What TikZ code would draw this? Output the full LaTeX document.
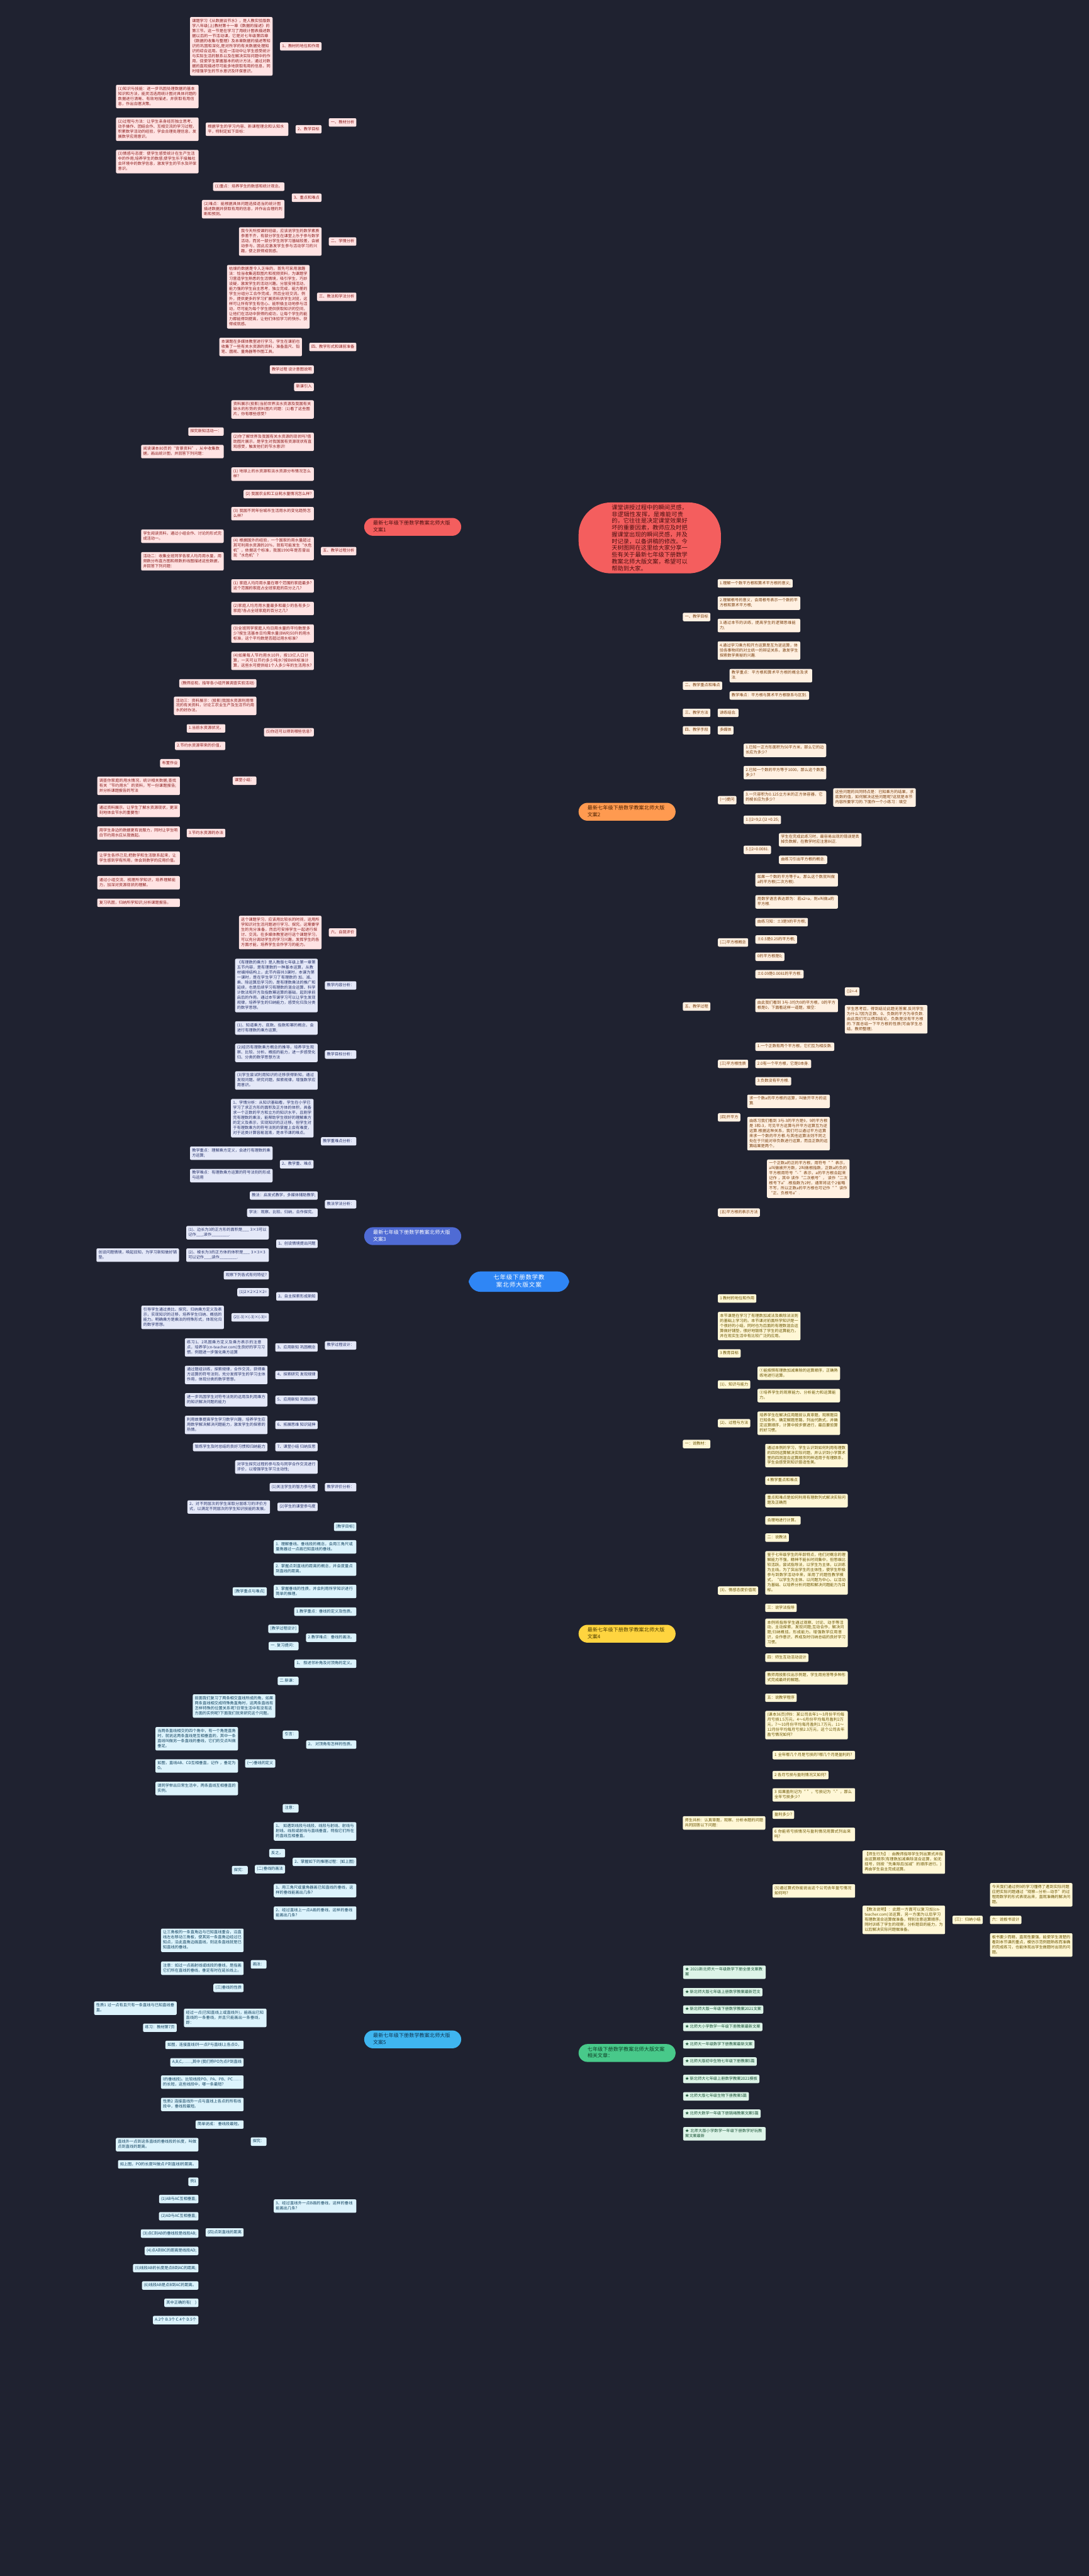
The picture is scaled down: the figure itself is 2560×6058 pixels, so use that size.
\documentclass[tikz,border=0pt]{standalone}
\usepackage{fontspec}
\setmainfont{Noto Sans CJK SC}
\XeTeXlinebreaklocale "zh"
\XeTeXlinebreakskip=0pt plus 1pt
\pgfdeclarelayer{bg}
\pgfsetlayers{bg,main}
\definecolor{bgc}{HTML}{1F2230}
\definecolor{rF}{HTML}{FFE3E3}\definecolor{rT}{HTML}{8C1C1C}\definecolor{rL}{HTML}{E8605E}\definecolor{rP}{HTML}{F45E5E}\definecolor{rPT}{HTML}{4A1010}
\definecolor{oF}{HTML}{FFF0E1}\definecolor{oT}{HTML}{7A3E0C}\definecolor{oL}{HTML}{F2A262}\definecolor{oP}{HTML}{FF9A50}\definecolor{oPT}{HTML}{4A2000}
\definecolor{bF}{HTML}{E4E8F8}\definecolor{bT}{HTML}{26326B}\definecolor{bL}{HTML}{4A6AD0}\definecolor{bP}{HTML}{4F6BD4}\definecolor{bPT}{HTML}{FFFFFF}
\definecolor{yF}{HTML}{FFF7D6}\definecolor{yT}{HTML}{6A5500}\definecolor{yL}{HTML}{F3D46A}\definecolor{yP}{HTML}{FFD43F}\definecolor{yPT}{HTML}{4A3B00}
\definecolor{gF}{HTML}{DDF4E8}\definecolor{gT}{HTML}{1A5436}\definecolor{gL}{HTML}{4DC48B}\definecolor{gP}{HTML}{48C98A}\definecolor{gPT}{HTML}{0F3E26}
\definecolor{cF}{HTML}{DCF3FC}\definecolor{cT}{HTML}{11425F}\definecolor{cL}{HTML}{3BB0E8}\definecolor{cP}{HTML}{3FB5EF}\definecolor{cPT}{HTML}{0D3350}
\definecolor{ctrF}{HTML}{2F86F5}
\newcommand\lfont{\fontsize{9.2}{11.8}\selectfont}
\newcommand\pfont{\fontsize{11.9}{16}\selectfont}
\tikzset{
 lf/.style={fill=F,text=T,rounded corners=3pt,inner xsep=4.8pt,inner ysep=4pt,font=\lfont,align=left,execute at begin node=\strut,execute at end node=\strut},
 w/.style={text width=184.5pt},
 conn/.style={draw=Ln,line width=1.4pt,rounded corners=5pt},
 pill/.style={fill=PF,text=PT,rounded corners=21pt,inner xsep=21pt,inner ysep=5pt,font=\pfont,text width=186pt,align=left,execute at begin node=\strut,execute at end node=\strut},
 mline/.style={line width=2.4pt},
}
\newcommand\mkL[5]{\node[lf,anchor=east,#2] (#1) at (#3,-#4) {#5};}
\newcommand\mkR[5]{\node[lf,anchor=west,#2] (#1) at (#3,-#4) {#5};}
\newcommand\joinL[2]{\foreach \cc in {#2}{\draw[conn] (#1.west) -- ++(-9,0) |- (\cc.east);}}
\newcommand\joinR[2]{\foreach \cc in {#2}{\draw[conn] (#1.east) -- ++(9,0) |- (\cc.west);}}
\begin{document}
\begin{tikzpicture}[x=1pt,y=1pt]
\fill[bgc] (0,0) rectangle (2560,-6058);
\useasboundingbox (0,0) rectangle (2560,-6058);

% centre
\node[fill=ctrF,text=white,rounded corners=28pt,inner xsep=26pt,inner ysep=6pt,font=\fontsize{14}{18}\selectfont,text width=184pt,align=center,execute at begin node=\strut,execute at end node=\strut] (ctr) at (1220,-3014) {七年级下册数学教案北师大版文案};

% bubble
\node[fill=rP,text=rPT,rounded corners=76pt,inner xsep=78pt,inner ysep=5.5pt,font=\fontsize{13.7}{15.9}\selectfont,text width=178.6pt,align=left,anchor=west] (bub) at (1360,-1265) {课堂讲授过程中的瞬间灵感，非逻辑性发挥，是难能可贵的，它往往是决定课堂效果好坏的重要因素，教师应及时把握课堂出现的瞬间灵感，并及时记录，以备讲稿的修改。今天树图网在这里给大家分享一些有关于最新七年级下册数学教案北师大版文案，希望可以帮助到大家。};

%================ RED
\begin{scope}
\colorlet{F}{rF}\colorlet{T}{rT}\colorlet{Ln}{rL}\colorlet{PF}{rP}\colorlet{PT}{rPT}
\node[pill,anchor=west] (r) at (856,-1239) {最新七年级下册数学教案北师大版文案1};
\mkL{r1}{}{838}{288}{一、教材分析}
\mkL{r2}{}{838}{568}{二、学情分析}
\mkL{r3}{}{838}{698}{三、教法和学法分析}
\mkL{r4}{}{838}{816}{四、教学形式和课前准备}
\mkL{r5}{}{838}{1296}{五、教学过程分析}
\mkL{r6}{}{838}{2193}{六、自我评价}
\mkL{r11}{}{756}{109}{1、教材的地位和作用}
\mkL{r12}{}{756}{304}{2、教学目标}
\mkL{r13}{}{756}{465}{3、重点和难点}
\mkL{r11a}{w}{641}{109}{课题学习《从数据谈节水》，是人教实验版数学八年级(上)教材第十一章《数据的描述》的第三节。这一节是在学习了用统计图表描述数据以后的一节活动课，它是对七年级第四章《数据的收集与整理》及本章数据的描述等知识的巩固和深化,是对所学的有关数据处理知识的综合运用。在这一活动中让学生感受统计与实际生活的联系以及在解决实际问题中的作用，促使学生掌握基本的统计方法，通过对数据的直观描述尽可能多地获取有用的信息，同时增强学生的节水意识及环保意识。}
\mkL{r12a}{w}{678}{304}{根据学生的学习内容、新课程理念和认知水平，特制定如下目标：}
\mkL{r12b}{w}{467}{227}{(1)知识与技能：进一步巩固处理数据的基本知识和方法，能灵活选用统计图对具体问题的数据进行清晰、有效地描述，并获取有用信息，作出合理决策。}
\mkL{r12c}{w}{467}{304}{(2)过程与方法：让学生亲身经历独立思考、动手操作、团结合作、互相交流的学习过程，积累数学活动的经验，学会合理处理信息，发展数学应用意识。}
\mkL{r12d}{w}{467}{380}{(3)情感与态度：使学生感受统计在生产生活中的作用;培养学生的数感;使学生乐于接触社会环境中的数学信息，激发学生的节水及环保意识。}
\mkL{r13a}{}{669}{439}{(1)重点：培养学生的数感和统计观念。}
\mkL{r13b}{w}{669}{492}{(2)难点：能根据具体问题选择适当的统计图描述数据并获取有用的信息，并作出合理的判断和预测。}
\mkL{r2a}{w}{756}{568}{我今天所授课的班级，应该说学生的数学素质参差不齐，有部分学生在课堂上乐于参与数学活动，而另一部分学生则学习基础较差，会被动参与，因此应激发学生参与活动学习的兴趣，使之获得成就感。}
\mkL{r3a}{w}{728}{698}{枯燥的数据是令人乏味的，首先可采用激趣法：恰当收集选取图片和视频资料，为课题学习营造学生熟悉的生活情境，吸引学生，巧妙设疑，激发学生的活动兴趣。分层安排活动，能力强的学生自主思考，独立完成，能力差的学生分组分工合作完成，然后全班交流。例外，提供更多的学习扩展资料供学生浏览，这样可让所有学生有信心、能积极主动地参与活动，尽可能为每个学生提供获取知识的空间，让他们在活动中获得的成功，让每个学生的能力都能得到提高，让他们体验学习的快乐、获得成就感。}
\mkL{r4a}{w}{710}{816}{本课题在多媒体教室进行学习。学生在课前也收集了一些有关水资源的资料，准备直尺、铅笔、圆规、量角器等作图工具。}
\mkL{r51}{}{738}{869}{教学过程 设计意图说明}
\mkL{r52}{}{738}{910}{新课引入}
\mkL{r53}{w}{738}{963}{资料展示(投影)当前世界淡水资源及我国有关缺水的形势的资料图片问题：(1)看了这些图片，你有哪些感受?}
\mkL{r54}{w}{738}{1039}{(2)你了解世界及我国有关水资源的现状吗?借助图片展示，是学生对我国国有资源现状有直观感受，触发他们的节水意识!}
\mkL{r54a}{}{526}{1015}{探究新知活动一：}
\mkL{r54b}{w}{526}{1062}{阅读课本80页的“背景资料”，从中收集数据，画出统计图，并回答下列问题：}
\mkL{r55}{w}{738}{1115}{(1) 地球上的水资源和淡水资源分布情况怎么样?}
\mkL{r56}{}{738}{1162}{(2) 我国农业和工业耗水量情况怎么样?}
\mkL{r57}{w}{738}{1208}{(3) 我国不同年份城市生活用水的变化趋势怎么样?}
\mkL{r58}{w}{738}{1290}{(4) 根据国外的经验，一个国家的用水量超过其可利用水资源的20\%，就有可能发生“水危机”，依据这个标准，我国1990年是否曾出现“水危机”?}
\mkL{r58a}{w}{526}{1261}{学生阅读资料，通过小组合作、讨论的形式完成活动一。}
\mkL{r58b}{w}{526}{1320}{活动二：收集全班同学各家人均月用水量，用频数分布直方图和频数折线图描述这些数据，并回答下列问题：}
\mkL{r59}{w}{738}{1378}{(1) 家庭人均月用水量在哪个范围的家庭最多?这个范围的家庭占全班家庭的百分之几?}
\mkL{r5a}{w}{738}{1431}{(2)家庭人均月用水量最多和最少的各有多少家庭?各占全班家庭的百分之几?}
\mkL{r5b}{w}{738}{1490}{(3)全班同学家庭人均日用水量的平均数是多少?按生活基本日均需水量(BWR)50升的用水标准，这个平均数是否超过用水标准?}
\mkL{r5c}{w}{738}{1554}{(4)如果每人节约用水10升，按13亿人口计算，一天可以节约多少吨水?按BWR标准计算，这些水可提供给1个人多少年的生活用水?}
\mkL{r5d}{}{738}{1722}{(5)你还可以得到哪些信息?}
\mkL{r5d1}{}{603}{1607}{(教师巡视，指导各小组开展调查实验活动)}
\mkL{r5d2}{w}{603}{1660}{活动三：资料展示：(投影)我国水资源利用情况的有关资料，讨论工农业生产及生活节约用水的好办法。}
\mkL{r5d3}{}{603}{1836}{课堂小结：}
\mkL{s1}{}{530}{1713}{1.当前水资源状况，}
\mkL{s2}{}{530}{1754}{2.节约水资源带来的价值，}
\mkL{s3}{}{530}{1959}{3.节约水资源的办法}
\mkL{t1}{}{423}{1795}{布置作业}
\mkL{t2}{w}{423}{1848}{调查你家庭的用水情况，统计相关数据;查找有关“节约用水”的资料，写一份课题报告;并分析课题报告的写法}
\mkL{t3}{w}{423}{1906}{通过资料展示，让学生了解水资源现状，更深刻地体会节水的重要性!}
\mkL{t4}{w}{423}{1959}{用学生身边的数据更有说服力，同时让学生明白节约用水应从我做起。}
\mkL{t5}{w}{423}{2018}{让学生各抒己见;把数学和生活联系起来，让学生感到学有所用，体会到数学的应用价值。}
\mkL{t6}{w}{423}{2076}{通过小组交流、梳理所学知识，培养理解能力，加深对资源现状的理解。}
\mkL{t7}{w}{423}{2123}{复习巩固，归纳所学知识;分析课题报告。}
\mkL{r6a}{w}{756}{2193}{这个课题学习，应该用比较长的时间，运用所学知识对生活问题进行学习、探究。这需要学生的充分准备，然后可安排学生一起进行探讨、交流。在多媒体教室进行这个课题学习，可以充分调动学生的学习兴趣，发挥学生的各方面才能，培养学生合作学习的能力。}
\begin{pgfonlayer}{bg}
\draw[mline,draw=rL] (1160,-3014) .. controls (1160,-1239) and (1160,-1239) .. (r.east);
\joinL{r}{r1,r2,r3,r4,r5,r6}
\joinL{r1}{r11,r12,r13}
\joinL{r11}{r11a}
\joinL{r12}{r12a}
\joinL{r12a}{r12b,r12c,r12d}
\joinL{r13}{r13a,r13b}
\joinL{r2}{r2a}\joinL{r3}{r3a}\joinL{r4}{r4a}\joinL{r6}{r6a}
\joinL{r5}{r51,r52,r53,r54,r55,r56,r57,r58,r59,r5a,r5b,r5c,r5d}
\joinL{r54}{r54a,r54b}
\joinL{r58}{r58a,r58b}
\joinL{r5d}{r5d1,r5d2,r5d3}
\joinL{r5d3}{s1,s2,s3}
\joinL{s3}{t1,t2,t3,t4,t5,t6,t7}
\end{pgfonlayer}
\end{scope}

%================ BLUE
\begin{scope}
\colorlet{F}{bF}\colorlet{T}{bT}\colorlet{Ln}{bL}\colorlet{PF}{bP}\colorlet{PT}{bPT}
\node[pill,anchor=west] (b) at (856,-2907) {最新七年级下册数学教案北师大版文案3};
\mkL{b1}{}{838}{2317.5}{教学内容分析：}
\mkL{b2}{}{838}{2480}{教学目标分析：}
\mkL{b3}{}{838}{2684}{教学重难点分析：}
\mkL{b4}{}{838}{2832}{教法学法分析：}
\mkL{b5}{}{838}{3164}{教学过程设计：}
\mkL{b6}{}{838}{3497.5}{教学评价分析：}
\mkL{b1a}{w}{747}{2317.6}{《有理数的乘方》是人教版七年级上第一章第五节内容，是有理数的一种基本运算，从教材编排结构上，此节内容共3课时，本课为第一课时，是在学生学习了有理数的 加、减、乘、除运算后学习的，是有理数乘法的推广和延续，也是后续学习有理数的混合运算、科学计数法和开方及指数幂运算的基础，起到承前启后的作用。通过本节课学习可以让学生发现规律，培养学生的归纳能力，感受化归及分类的数学思想。}
\mkL{b2a}{w}{747}{2417.5}{(1)、知道乘方、底数、指数和幂的概念，会进行有理数的乘方运算;}
\mkL{b2b}{w}{747}{2476}{(2)经历有理数乘方概念的推导，培养学生观察、比较、分析、概括的能力，进一步感受化归、分类的数学思想方法}
\mkL{b2c}{w}{747}{2541}{(3)学生尝试利用知识的迁移获得新知，通过发现问题、研究问题，探索规律，增强数学应用意识。}
\mkL{b3a}{w}{737.4}{2629.7}{1、学情分析：从知识基础看，学生在小学已学习了求正方形的面积及正方体的体积，具备求一个正数的平方和立方的知识水平，且刚学完有理数的乘法，能帮助学生很好的理解乘方的定义及表示，实现知识的正迁移。但学生对于有理数乘方的符号法则的掌握上会有难度，对于这类计算容易混淆，是本节课的难点。}
\mkL{b3b}{}{737.4}{2738}{2、教学重、难点}
\mkL{b3b1}{w}{641}{2712}{教学重点：理解乘方定义，会进行有理数的乘方运算;}
\mkL{b3b2}{w}{641}{2764.7}{教学难点：有理数乘方运算的符号法则的形成与运用}
\mkL{b4a}{}{747}{2811.5}{教法：启发式教学，多媒体辅助教学;}
\mkL{b4b}{}{747}{2852}{学法：观察、比较、归纳，合作探究。}
\mkL{b51}{}{747}{2925}{1、创设情境提出问题}
\mkL{b51a}{w}{632.2}{2899}{(1)、边长为3的正方形的面积是\_\_\_ 3×3可以记作\_\_\_,读作\_\_\_\_\_\_\_\_.}
\mkL{b51b}{w}{632.2}{2951.7}{(2)、棱长为3的正方体的体积是\_\_\_ 3×3×3可以记作\_\_\_,读作\_\_\_\_\_\_\_\_.}
\mkL{b51c}{w}{421}{2951.7}{创设问题情境，唤起旧知，为学习新知做好铺垫。}
\mkL{b52}{}{747}{3048.8}{2、自主探索形成新知}
\mkL{b52a}{}{632.2}{2999}{观察下列各式有何特征?}
\mkL{b52b}{}{632.2}{3039}{(1)2×2×2×2=}
\mkL{b52c}{}{632.2}{3098}{(2)(-3)×(-3)×(-3)=}
\mkL{b52d}{w}{526.6}{3098}{引导学生通过类比、探究、归纳乘方定义及表示，实现知识的迁移，培养学生归纳、概括的能力。明确乘方是乘法的特殊形式，体现化归的数学思想。}
\mkL{b53}{}{747}{3168.8}{3、应用新知 巩固概念}
\mkL{b53a}{w}{629}{3168.8}{练习1、2巩固乘方定义及乘方表示的注意点，培养学(cn-teacher.com)生良好的学习习惯。例题进一步强化乘方运算}
\mkL{b54}{}{747}{3233.5}{4、探索研究 发现规律}
\mkL{b54a}{w}{629}{3233.5}{通过题组训练，探索规律，合作交流，获得乘方运算的符号法则，充分发挥学生的学习主体作用，体现分类的数学思想。}
\mkL{b55}{}{747}{3292}{5、应用新知 巩固训练}
\mkL{b55a}{w}{629}{3292}{进一步巩固学生对符号法则的运用及利用乘方的知识解决问题的能力}
\mkL{b56}{}{747}{3351}{6、拓展思维 知识延伸}
\mkL{b56a}{w}{629}{3351}{利用故事提高学生学习数学兴趣，培养学生应用数学解决解决问题能力，激发学生的探索的热情。}
\mkL{b57}{}{747}{3403}{7、课堂小结 归纳反思}
\mkL{b57a}{}{629}{3403}{锻炼学生及时总结的良好习惯和归纳能力}
\mkL{b6a}{w}{747}{3450}{对学生探究过程的参与及与同学合作交流进行评价，以增强学生学习主动性;}
\mkL{b6b}{}{747}{3497.5}{(1)关注学生的智力参与度}
\mkL{b6c}{}{747}{3543.7}{(2)学生的课堂参与度}
\mkL{b6d}{w}{635}{3544}{2、对不同层次的学生采取分层练习的评价方式，以满足不同层次的学生知识技能的发展。}
\begin{pgfonlayer}{bg}
\draw[mline,draw=bL] (1160,-3014) .. controls (1160,-2907) and (1160,-2907) .. (b.east);
\joinL{b}{b1,b2,b3,b4,b5,b6}
\joinL{b1}{b1a}
\joinL{b2}{b2a,b2b,b2c}
\joinL{b3}{b3a,b3b}
\joinL{b3b}{b3b1,b3b2}
\joinL{b4}{b4a,b4b}
\joinL{b5}{b51,b52,b53,b54,b55,b56,b57}
\joinL{b51}{b51a,b51b}
\joinL{b51b}{b51c}
\joinL{b52}{b52a,b52b,b52c}
\joinL{b52c}{b52d}
\joinL{b53}{b53a}\joinL{b54}{b54a}\joinL{b55}{b55a}\joinL{b56}{b56a}\joinL{b57}{b57a}
\joinL{b6}{b6a,b6b,b6c}
\joinL{b6c}{b6d}
\end{pgfonlayer}
\end{scope}

%================ CYAN
\begin{scope}
\colorlet{F}{cF}\colorlet{T}{cT}\colorlet{Ln}{cL}\colorlet{PF}{cP}\colorlet{PT}{cPT}
\node[pill,anchor=west] (c) at (856,-4796) {最新七年级下册数学教案北师大版文案5};
\mkL{c01}{}{838}{3590.5}{[教学目标]}
\mkL{c02}{w}{838}{3637.7}{1. 理解垂线、垂线段的概念，会用三角尺或量角器过一点画已知直线的垂线。}
\mkL{c03}{w}{838}{3690}{2. 掌握点到直线的距离的概念，并会度量点到直线的距离。}
\mkL{c04}{w}{838}{3742.6}{3. 掌握垂线的性质，并会利用所学知识进行简单的推理。}
\mkL{c04a}{}{627.4}{3742.7}{[教学重点与难点]}
\mkL{c05}{}{838}{3790}{1.教学重点：垂线的定义及性质。}
\mkL{c06}{}{838}{3851.4}{2.教学难点：垂线的画法。}
\mkL{c06a}{}{702}{3830.5}{[教学过程设计]}
\mkL{c06b}{}{702}{3871}{一. 复习提问：}
\mkL{c07}{}{838}{3912.5}{1、 叙述邻补角及对顶角的定义。}
\mkL{c08}{}{838}{4102.7}{2、 对顶角有怎样的性质。}
\mkL{c08a}{}{702}{3953}{二.新课：}
\mkL{c08b}{}{702}{4079.6}{引言：}
\mkL{c08c}{}{702}{4252.6}{注意：}
\mkL{c08b1}{w}{647.5}{4012}{前面我们复习了两条相交直线所成的角，如果两条直线相交成特殊角直角时，这两条直线有怎样特殊的位置关系呢?日常生活中有没有这方面的实例呢?下面我们就来研究这个问题。}
\mkL{c08b2}{}{647.5}{4147}{(一)垂线的定义}
\mkL{c08d1}{w}{559.7}{4089}{当两条直线相交的四个角中，有一个角是直角时，就说这两条直线是互相垂直的，其中一条直线叫做另一条直线的垂线，它们的交点叫做垂足。}
\mkL{c08d2}{w}{559.7}{4153}{如图，直线AB、CD互相垂直，记作 ，垂足为O。}
\mkL{c08d3}{w}{559.7}{4206}{请同学举出日常生活中，两条直线互相垂直的实例。}
\mkL{c09}{w}{838}{4307}{1、 如遇到线段与线段、线段与射线、射线与射线、线段或射线与直线垂直，特指它们所在的直线互相垂直。}
\mkL{c10}{}{838}{4378.6}{2、掌握如下的推理过程：(如上图)}
\mkL{c10a}{}{670.4}{4358}{反之，}
\mkL{c10b}{}{670.4}{4395.7}{(二)垂线的画法}
\mkL{c10c}{}{582.6}{4398}{探究：}
\mkL{c11}{w}{838}{4446}{1、用三角尺或量角器画已知直线的垂线，这样的垂线能画出几条?}
\mkL{c12}{w}{838}{4499}{2、经过直线上一点A画的垂线，这样的垂线能画出几条?}
\mkL{c13}{w}{838}{5188}{3、经过直线外一点B画的垂线，这样的垂线能画出几条?}
\mkL{c13a}{}{626.8}{4619.5}{画法：}
\mkL{c13a1}{w}{572.9}{4563}{让三角板的一条直角边与已知直线重合，沿直线左右移动三角板，使其另一条直角边经过已知点，沿此直角边画直线，则这条直线就是已知直线的垂线。}
\mkL{c13a2}{w}{572.9}{4628.6}{注意：如过一点画射线或线段的垂线，是指画它们所在直线的垂线，垂足有时在延长线上。}
\mkL{c13a3}{}{572.9}{4674.8}{(三)垂线的性质}
\mkL{c13b}{w}{626.8}{4745.5}{经过一点(已知直线上或直线外)，能画出已知直线的一条垂线，并且只能画出一条垂线，即：}
\mkL{c13b1}{w}{415.6}{4722.6}{性质1 过一点有且只有一条直线与已知直线垂直。}
\mkL{c13b2}{}{415.6}{4768.6}{练习：教材第7页}
\mkL{c13c}{}{626.8}{5036.4}{探究：}
\mkL{c13c1}{}{572.9}{4809}{如图，连接直线l外一点P与直线l上各点O，}
\mkL{c13c2}{}{572.9}{4850}{A,B,C,……,其中 (我们称PO为点P到直线}
\mkL{c13c3}{w}{572.9}{4896.5}{l的垂线段)。比较线段PO、PA、PB、PC……的长短，这些线段中，哪一条最短?}
\mkL{c13c4}{w}{572.9}{4949}{性质2 连接直线外一点与直线上各点的所有线段中，垂线段最短。}
\mkL{c13c5}{}{572.9}{4996.3}{简单说成： 垂线段最短。}
\mkL{c13x}{}{572.9}{5250}{(四)点到直线的距离}
\mkL{c13x1}{w}{466.7}{5043.6}{直线外一点到这条直线的垂线段的长度，叫做点到直线的距离。}
\mkL{c13x2}{}{466.7}{5090}{如上图，PO的长度叫做点 P到直线l的距离。}
\mkL{c13x3}{}{466.7}{5130.7}{例1}
\mkL{c13x4}{}{466.7}{5171.4}{(1)AB与AC互相垂直;}
\mkL{c13x5}{}{466.7}{5212}{(2)AD与AC互相垂直;}
\mkL{c13x6}{}{466.7}{5252.7}{(3)点C到AB的垂线段是线段AB;}
\mkL{c13x7}{}{466.7}{5293.4}{(4)点A到BC的距离是线段AD;}
\mkL{c13x8}{}{466.7}{5334}{(5)线段AB的长度是点B到AC的距离;}
\mkL{c13x9}{}{466.7}{5374.8}{(6)线段AB是点B到AC的距离。}
\mkL{c13x10}{}{466.7}{5415.5}{其中正确的有(\quad)}
\mkL{c13x11}{}{466.7}{5456.2}{A.2个 B.3个 C.4个 D.5个}
\begin{pgfonlayer}{bg}
\draw[mline,draw=cL] (1160,-3014) .. controls (1160,-4796) and (1160,-4796) .. (c.east);
\joinL{c}{c01,c02,c03,c04,c05,c06,c07,c08,c09,c10,c11,c12,c13}
\joinL{c04}{c04a}
\joinL{c06}{c06a,c06b}
\joinL{c08}{c08a,c08b,c08c}
\joinL{c08b}{c08b1,c08b2}
\joinL{c08b2}{c08d1,c08d2,c08d3}
\joinL{c10}{c10a,c10b}
\joinL{c10b}{c10c}
\joinL{c13}{c13a,c13b,c13c}
\joinL{c13a}{c13a1,c13a2,c13a3}
\joinL{c13b}{c13b1,c13b2}
\joinL{c13c}{c13c1,c13c2,c13c3,c13c4,c13c5,c13x}
\joinL{c13x}{c13x1,c13x2,c13x3,c13x4,c13x5,c13x6,c13x7,c13x8,c13x9,c13x10,c13x11}
\end{pgfonlayer}
\end{scope}

%================ ORANGE
\begin{scope}
\colorlet{F}{oF}\colorlet{T}{oT}\colorlet{Ln}{oL}\colorlet{PF}{oP}\colorlet{PT}{oPT}
\node[pill,anchor=west] (o) at (1360,-1909) {最新七年级下册数学教案北师大版文案2};
\mkR{o1}{}{1605}{1451}{一、教学目标}
\mkR{o2}{}{1605}{1612.5}{二、教学重点和难点}
\mkR{o3}{}{1605}{1676.5}{三、教学方法}
\mkR{o4}{}{1605}{1717.4}{四、教学手段}
\mkR{o5}{}{1605}{2367}{五、教学过程}
\mkR{o1a}{}{1687}{1372}{1.理解一个数平方根和算术平方根的意义;}
\mkR{o1b}{w}{1687}{1418.5}{2.理解根号的意义，会用根号表示一个数的平方根和算术平方根;}
\mkR{o1c}{w}{1687}{1471}{3.通过本节的训练，提高学生的逻辑思维能力;}
\mkR{o1d}{w}{1687}{1530}{4.通过学习乘方和开方运算是互为逆运算，体验各事物间的对立统一的辩证关系，激发学生探索数学奥秘的兴趣.}
\mkR{o2a}{w}{1715}{1589}{教学重点：平方根和算术平方根的概念及求法.}
\mkR{o2b}{}{1715}{1635.6}{教学难点：平方根与算术平方根联系与区别.}
\mkR{o3a}{}{1687}{1676.5}{讲练结合.}
\mkR{o4a}{}{1687}{1717.4}{多媒体}
\mkR{o51}{}{1687.6}{1881.7}{(一)提问}
\mkR{o52}{}{1687.6}{2216.4}{(二)平方根概念}
\mkR{o53}{}{1687.6}{2502}{(三)平方根性质}
\mkR{o54}{}{1687.6}{2627.7}{(四)开平方}
\mkR{o55}{}{1687.6}{2851.6}{(五)平方根的表示方法}
\mkR{a1}{w}{1748}{1764.6}{1.已知一正方形面积为50平方米，那么它的边长应为多少?}
\mkR{a2}{w}{1748}{1817}{2.已知一个数的平方等于1000，那么这个数是多少?}
\mkR{a3}{w}{1748}{1875.5}{3.一只容积为0.125立方米的正方体容器，它的棱长应为多少?}
\mkR{a3a}{w}{1958.7}{1875.5}{这些问题的共同特点是：已知乘方的结果，求底数的值，如何解决这些问题呢?这就是本节内容所要学习的.下面作一个小练习：填空}
\mkR{a4}{}{1748}{1928}{1.()2=9;2.()2 =0.25;}
\mkR{a5}{}{1748}{1998.6}{5.()2=0.0081.}
\mkR{a5a}{w}{1831}{1975}{学生在完成此练习时，最容易出现的错误是丢掉负数解，在教学时应注意纠正.}
\mkR{a5b}{}{1831}{2022}{由练习引出平方根的概念.}
\mkR{q1}{w}{1775.6}{2069}{如果一个数的平方等于a，那么这个数就叫做a的平方根(二次方根).}
\mkR{q2}{w}{1775.6}{2121}{用数学语言表达即为：若x2=a，则x叫做a的平方根.}
\mkR{q3}{}{1775.6}{2168.6}{由练习知：±3是9的平方根;}
\mkR{q4}{}{1775.6}{2209.4}{±0.5是0.25的平方根;}
\mkR{q5}{}{1775.6}{2250}{0的平方根是0;}
\mkR{q6}{}{1775.6}{2291}{±0.09是0.0081的平方根.}
\mkR{q7}{w}{1775.6}{2364.6}{由此我们看到 3与-3均为9的平方根，0的平方根是0，下面看这样一道题，填空：}
\mkR{q7a}{}{1986}{2331.8}{()2=-4}
\mkR{q7b}{w}{1986}{2397}{学生思考后，得到结论此题无答案.反问学生为什么?因为正数、0、负数的平方为非负数.由此我们可以得到结论，负数是没有平方根的.下面总结一下平方根的性质(可由学生总结，教师整理).}
\mkR{d1}{}{1775.6}{2461.6}{1.一个正数有两个平方根，它们互为相反数.}
\mkR{d2}{}{1775.6}{2502}{2.0有一个平方根，它是0本身.}
\mkR{d3}{}{1775.6}{2542.7}{3.负数没有平方根.}
\mkR{e1}{w}{1756.5}{2590}{求一个数a的平方根的运算，叫做开平方的运算.}
\mkR{e2}{w}{1756.5}{2666}{由练习我们看到 3与-3的平方是9，9的平方根是 3和-3，可见平方运算与开平方运算互为逆运算.根据这种关系，我们可以通过平方运算来求一个数的平方根.与其他运算法则不同之处在于只能对非负数进行运算，而且正数的运算结果是两个。}
\mkR{f1}{w}{1803}{2772}{一个正数a的正的平方根，用符号“ ”表示，a叫做被开方数，2叫做根指数，正数a的负的平方根用符号“- ”表示，a的平方根合起来记作 ，其中 读作“二次根号”， 读作“二次根号下a”.根指数为2时，通常将这个2省略不写，所以正数a的平方根也可记作“ ”读作“正、负根号a”.}
\begin{pgfonlayer}{bg}
\draw[mline,draw=oL] (1280,-3014) .. controls (1280,-1909) and (1280,-1909) .. (o.west);
\draw[mline,draw=rL] (1280,-3014) .. controls (1280,-1265) and (1280,-1265) .. (bub.west);
\joinR{o}{o1,o2,o3,o4,o5}
\joinR{o1}{o1a,o1b,o1c,o1d}
\joinR{o2}{o2a,o2b}
\joinR{o3}{o3a}\joinR{o4}{o4a}
\joinR{o5}{o51,o52,o53,o54,o55}
\joinR{o51}{a1,a2,a3,a4,a5}
\joinR{a3}{a3a}
\joinR{a5}{a5a,a5b}
\joinR{o52}{q1,q2,q3,q4,q5,q6,q7}
\joinR{q7}{q7a,q7b}
\joinR{o53}{d1,d2,d3}
\joinR{o54}{e1,e2}
\joinR{o55}{f1}
\end{pgfonlayer}
\end{scope}

%================ YELLOW
\begin{scope}
\colorlet{F}{yF}\colorlet{T}{yT}\colorlet{Ln}{yL}\colorlet{PF}{yP}\colorlet{PT}{yPT}
\node[pill,anchor=west] (y) at (1360,-3842) {最新七年级下册数学教案北师大版文案4};
\mkR{y1}{}{1605}{3396}{一：说教材：}
\mkR{y2}{w}{1605}{4287}{师生共析：认真审题，观察、分析本题的问题共同回答以下问题：}
\mkR{y11}{}{1687.5}{3053.6}{1 教材的地位和作用}
\mkR{y12}{w}{1687.5}{3118.5}{本节课是在学习了有理数加减法及乘除法法则的基础上学习的。本节课对前面所学知识是一个很好的小结，同时也为后面的有理数混合运算做好铺垫，很好地锻炼了学生的运算能力，并在现实生活中有比较广泛的应用。}
\mkR{y13}{}{1687.5}{3182.7}{3 教育目标}
\mkR{y14}{}{1687.5}{3256}{(1)、知识与能力}
\mkR{y14a}{w}{1780.6}{3229.5}{①能按照有理数加减乘除的运算顺序，正确熟练地进行运算。}
\mkR{y14b}{w}{1780.6}{3282}{②培养学生的观察能力、分析能力和运算能力。}
\mkR{y15}{}{1687.5}{3347}{(2)、过程与方法}
\mkR{y15a}{w}{1780.6}{3347}{培养学生在解决应用题前认真审题，观察题目已知条件，确定解题思路，列出代数式，并确定运算顺序，计算中按步骤进行，最后要验算的好习惯。}
\mkR{y16}{}{1687.5}{3740.6}{(3)、情感态度价值观}
\mkR{yg1}{w}{1798.75}{3423}{通过本例的学习，学生认识到如何利用有理数的四则运算解决实际问题，并认识到小学算术里的四则混合运算顺序同样适用于有理数系，学生会感受到知识普适性美。}
\mkR{yg2}{}{1798.75}{3482}{4 教学重点和难点}
\mkR{yg3}{w}{1798.75}{3529}{重点和难点是如何利用有理数列式解决实际问题及正确而}
\mkR{yg4}{}{1798.75}{3575.6}{合理地进行计算。}
\mkR{yg5}{}{1798.75}{3616}{二：说教法}
\mkR{yg6}{w}{1798.75}{3699}{鉴于七年级学生的年龄特点，他们对概念的理解能力不强，精神不能长时间集中，但思维比较活跃。尝试指导法，以学生为主体，以训练为主线。为了突出学生的主体性，使学生积极参与到数学活动中来，采用了问题性教学模式，“以学生为主体、以问题为中心、以活动为基础、以培养分析问题和解决问题能力为目标。}
\mkR{yg7}{}{1798.75}{3781}{三：说学法指导}
\mkR{yg8}{w}{1798.75}{3840}{本例将指导学生通过观察、讨论、动手等活动，主动探索，发现问题;互动合作，解决问题;归纳概括，形成能力。增强数学应用意识，合作意识，养成及时归纳总结的良好学习习惯。}
\mkR{yg9}{}{1798.75}{3898.5}{四：师生互动活动设计}
\mkR{yg10}{w}{1798.75}{3946}{教师用投影仪出示例题，学生用抢答等多种形式完成最终的解题。}
\mkR{yg11}{}{1798.75}{3992.5}{五：说教学程序}
\mkR{yg12}{w}{1798.75}{4057}{(课本36页)例9：某公司去年1～3月份平均每月亏损1.5万元，4～6月份平均每月盈利2万元，7～10月份平均每月盈利1.7万元，11～12月份平均每月亏损2.3万元，这个公司去年盈亏情况如何?}
\mkR{h1}{w}{1816}{4127.6}{1 全年哪几个月是亏损的?哪几个月是盈利的?}
\mkR{h2}{}{1816}{4174.5}{2 各月亏损与盈利情况又如何?}
\mkR{h3}{w}{1816}{4221}{3 如果盈利记为“ ”，亏损记为“-”，那么全年亏损多少?}
\mkR{h4}{}{1816}{4267.6}{盈利多少?}
\mkR{h5}{w}{1816}{4314}{6 你能将亏损情况与盈利情况用算式列出来吗?}
\mkR{h6}{w}{1816}{4447}{(5)通过算式你能说出这个公司去年盈亏情况如何吗?}
\mkR{h6a}{w}{2027.5}{4379}{【师生行为】：由教师指导学生列出算式并指出运算顺序(有理数加减乘除混合运算，如无括号，则按“先乘除后加减”的顺序进行。)再由学生自主完成运算。}
\mkR{h6b}{w}{2027.5}{4515}{【教法说明】：此题一方面可以复习加(cn-teacher.com)法运算，另一方面为以后学习有理数混合运算做准备，特别注意运算顺序。同时训练了学生的观察，分析题目的能力，为以后解决实际问题做准备。}
\mkR{h6c}{}{2239}{4515}{(三)：归纳小结}
\mkR{k1}{w}{2327}{4456}{今天我们通过例9的学习懂得了遇到实际问题应把实际问题通过“观察—分析—动手”的过程用数学的形式表现出来，直观准确的解决问题。}
\mkR{k2}{}{2327}{4515}{六：说板书设计}
\mkR{k3}{w}{2327}{4574}{板书要少而精，直观性要强，能使学生清楚的看到本节课的重点，模仿示范例题熟练而准确的完成练习，也能体现出学生做题时出现的问题。}
\begin{pgfonlayer}{bg}
\draw[mline,draw=yL] (1280,-3014) .. controls (1280,-3842) and (1280,-3842) .. (y.west);
\joinR{y}{y1,y2}
\joinR{y1}{y11,y12,y13,y14,y15,y16}
\joinR{y14}{y14a,y14b}
\joinR{y15}{y15a}
\joinR{y16}{yg1,yg2,yg3,yg4,yg5,yg6,yg7,yg8,yg9,yg10,yg11,yg12}
\joinR{y2}{h1,h2,h3,h4,h5,h6}
\joinR{h6}{h6a,h6b}
\joinR{h6b}{h6c}
\joinR{h6c}{k1,k2,k3}
\end{pgfonlayer}
\end{scope}

%================ GREEN
\begin{scope}
\colorlet{F}{gF}\colorlet{T}{gT}\colorlet{Ln}{gL}\colorlet{PF}{gP}\colorlet{PT}{gPT}
\node[pill,anchor=west] (g) at (1360,-4828) {七年级下册数学教案北师大版文案相关文章：};
\mkR{gr1}{w}{1605.7}{4638}{★ 2021新北师大一年级数学下册全册文案教案}
\mkR{gr2}{}{1605.7}{4685}{★ 新北师大版七年级上册数学教案最新范文}
\mkR{gr3}{}{1605.7}{4725.7}{★ 新北师大版一年级下册数学教案2021文案}
\mkR{gr4}{}{1605.7}{4766.7}{★ 北师大小学数学一年级下册教案最新文案}
\mkR{gr5}{}{1605.7}{4807.7}{★ 北师大一年级数学下册教案最新文案}
\mkR{gr6}{}{1605.7}{4848}{★ 北师大版初中生物七年级下册教案5篇}
\mkR{gr7}{}{1605.7}{4889}{★ 新北师大七年级上册数学教案2021模板}
\mkR{gr8}{}{1605.7}{4930}{★ 北师大版七年级生物下册教案5篇}
\mkR{gr9}{}{1605.7}{4970.7}{★ 北师大数学一年级下册跳绳教案文案5篇}
\mkR{gr10}{w}{1605.7}{5018}{★ 北师大版小学数学一年级下册数学好玩教案文案最新}
\begin{pgfonlayer}{bg}
\draw[mline,draw=gL] (1280,-3014) .. controls (1280,-4828) and (1280,-4828) .. (g.west);
\joinR{g}{gr1,gr2,gr3,gr4,gr5,gr6,gr7,gr8,gr9,gr10}
\end{pgfonlayer}
\end{scope}
\end{tikzpicture}
\end{document}
